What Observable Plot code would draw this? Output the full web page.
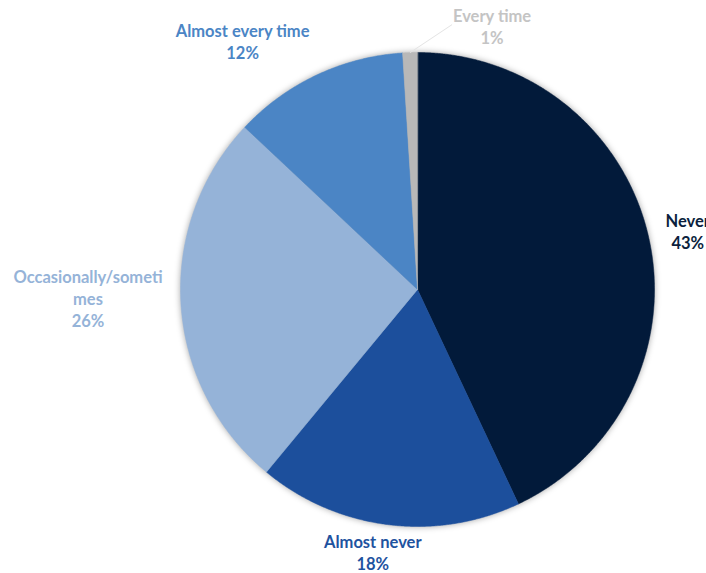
<!DOCTYPE html>
<html><head><meta charset="utf-8">
<script src="https://cdn.jsdelivr.net/npm/d3@7"></script>
<script src="https://cdn.jsdelivr.net/npm/@observablehq/plot@0.6"></script>
<style>body{margin:0;background:#fff;} #chart{width:706px;height:573px;overflow:hidden;}</style>
</head><body><div id="chart"></div>
<script>
// ---- data ----
const categories = ["Never", "Almost never", "Occasionally/sometimes", "Almost every time", "Every time"];
const labelTexts = ["Never", "Almost never", "Occasionally/someti\nmes", "Almost every time", "Every time"];
const percents = [43, 18, 26, 12, 1];

// ---- style / layout ----
const sliceColors = ["#021a3a", "#1c4f9c", "#95b3d8", "#4b85c5", "#b8b8b8"];
const labelColors = ["#0b1f3d", "#1f539f", "#95b3d8", "#4b85c5", "#c4c4c4"];
const W = 706, H = 573, cx = 417, cy = 289, R = 237;
// pixel nudges of each label block from the slice's mid-angle edge point
const labelNudge = [[39, -7], [-15, 27], [-93, -6], [-74, -34], [82, -27]];

const rows = categories.map((c, i) => ({cat: c, value: percents[i], label: labelTexts[i] + "\n" + percents[i] + "%", i}));
const arcs = d3.pie().sort(null).value(d => d.value)(rows);

// slice polygons built from pie angles
const pts = [];
arcs.forEach(a => {
  pts.push({cat: a.data.cat, x: 0, y: 0});
  const n = Math.max(2, Math.ceil((a.endAngle - a.startAngle) / 0.005));
  for (let k = 0; k <= n; k++) {
    const t = a.startAngle + (a.endAngle - a.startAngle) * k / n;
    pts.push({cat: a.data.cat, x: Math.sin(t), y: Math.cos(t)});
  }
});

const labelMarks = arcs.map((a, i) => {
  const m = (a.startAngle + a.endAngle) / 2;
  return Plot.text([a.data], {
    x: () => Math.sin(m), y: () => Math.cos(m), text: "label",
    dx: labelNudge[i][0], dy: labelNudge[i][1],
    fill: labelColors[i], fontFamily: "Lato", fontWeight: "bold", fontSize: 16.5,
    lineHeight: 1.33, textAnchor: "middle", lineAnchor: "middle"
  });
});

// leader line for the smallest slice
const last = arcs[arcs.length - 1];
const lm = (last.startAngle + last.endAngle) / 2;
const leader = Plot.link([last.data], {
  x1: () => Math.sin(lm), y1: () => Math.cos(lm),
  x2: () => Math.sin(lm) + 42 / R, y2: () => Math.cos(lm) + 28 / R,
  stroke: "#e4e4e4", strokeWidth: 1
});

const chart = Plot.plot({
  width: W, height: H,
  margin: 0,
  x: {domain: [-1, 1], range: [cx - R, cx + R], axis: null},
  y: {domain: [-1, 1], range: [cy + R, cy - R], axis: null},
  color: {domain: categories, range: sliceColors},
  style: {background: "#fff", overflow: "visible"},
  marks: [
    Plot.line(pts, {x: "x", y: "y", z: "cat", fill: "cat", stroke: "cat", strokeWidth: 0.5, curve: "linear-closed"}),
    leader,
    ...labelMarks
  ]
});
const g = chart.querySelector('g[aria-label="line"]');
if (g) g.style.filter = "drop-shadow(0px 0px 3px rgba(0,0,0,0.35))";
document.getElementById("chart").appendChild(chart);
</script>
</body></html>
